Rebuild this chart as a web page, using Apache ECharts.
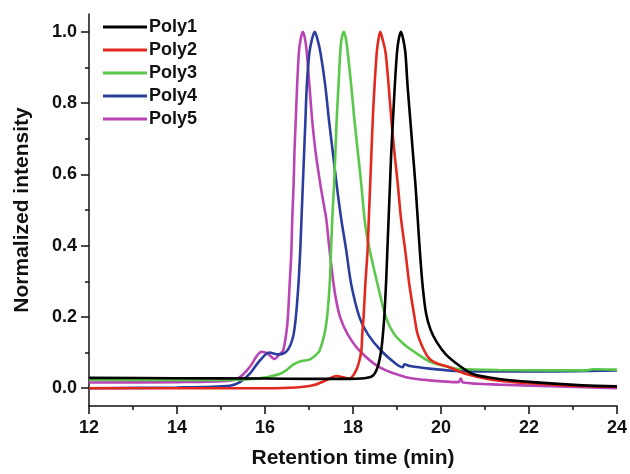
<!DOCTYPE html>
<html><head><meta charset="utf-8">
<script src="https://cdn.jsdelivr.net/npm/echarts@6/dist/echarts.min.js"></script>
<style>html,body{margin:0;padding:0;background:#fff}#c{width:630px;height:474px}</style>
</head><body><div id="c"></div>
<script>
const seriesNames = ['Poly1','Poly2','Poly3','Poly4','Poly5'];
const xTicks = [12,14,16,18,20,22,24];
const yTicks = [0.0,0.2,0.4,0.6,0.8,1.0];
const yMinorTicks = [0.1,0.3,0.5,0.7,0.9];

const poly1 = [[12,0.029],[14,0.028],[16,0.027],[17,0.026],[17.8,0.026],[18.26,0.028],[18.45,0.035],[18.56,0.059],[18.64,0.105],[18.68,0.151],[18.71,0.198],[18.75,0.291],[18.78,0.384],[18.81,0.477],[18.84,0.57],[18.87,0.663],[18.91,0.756],[18.95,0.849],[19.0,0.942],[19.04,0.98],[19.09,1.0],[19.14,0.98],[19.19,0.942],[19.24,0.849],[19.30,0.756],[19.36,0.663],[19.42,0.57],[19.47,0.477],[19.52,0.384],[19.58,0.291],[19.66,0.21],[19.76,0.165],[19.9,0.13],[20.11,0.095],[20.42,0.063],[20.72,0.04],[21.32,0.026],[22.08,0.017],[23.21,0.008],[24,0.005]];
const poly2 = [[12,0.0],[14,0.0],[16,0.0],[16.71,0.002],[17.09,0.008],[17.39,0.022],[17.62,0.034],[17.8,0.03],[17.92,0.027],[18.0,0.035],[18.07,0.05],[18.13,0.07],[18.19,0.105],[18.21,0.151],[18.24,0.198],[18.28,0.291],[18.33,0.384],[18.36,0.477],[18.39,0.57],[18.42,0.663],[18.45,0.756],[18.49,0.849],[18.54,0.942],[18.58,0.98],[18.62,1.0],[18.67,0.98],[18.74,0.942],[18.81,0.849],[18.87,0.756],[18.94,0.663],[19.02,0.57],[19.09,0.477],[19.19,0.384],[19.28,0.291],[19.40,0.198],[19.47,0.151],[19.62,0.105],[19.74,0.082],[19.9,0.07],[20.19,0.059],[20.57,0.04],[21.32,0.021],[22.84,0.008],[24,0.004]];
const poly3 = [[12,0.024],[14,0.023],[15.2,0.023],[15.73,0.026],[16.0,0.03],[16.18,0.035],[16.33,0.04],[16.48,0.05],[16.64,0.066],[16.79,0.075],[17.0,0.08],[17.09,0.086],[17.17,0.095],[17.24,0.105],[17.35,0.151],[17.41,0.198],[17.47,0.291],[17.50,0.384],[17.53,0.477],[17.57,0.57],[17.60,0.663],[17.63,0.756],[17.67,0.849],[17.71,0.942],[17.74,0.98],[17.79,1.0],[17.84,0.98],[17.88,0.942],[17.96,0.849],[18.03,0.756],[18.11,0.663],[18.19,0.57],[18.26,0.477],[18.32,0.425],[18.41,0.37],[18.56,0.291],[18.75,0.198],[18.94,0.151],[19.17,0.122],[19.36,0.105],[19.74,0.075],[20.19,0.059],[20.42,0.054],[21.3,0.051],[22.5,0.05],[23.3,0.05],[23.45,0.053],[24,0.052]];
const poly4 = [[12,0.0],[14,0.002],[15.2,0.007],[15.43,0.017],[15.65,0.04],[15.88,0.077],[16.1,0.1],[16.3,0.095],[16.43,0.098],[16.52,0.108],[16.59,0.125],[16.65,0.151],[16.70,0.198],[16.76,0.291],[16.80,0.384],[16.83,0.477],[16.86,0.57],[16.89,0.663],[16.92,0.756],[16.95,0.849],[17.01,0.942],[17.07,0.98],[17.13,1.0],[17.19,0.98],[17.26,0.942],[17.37,0.849],[17.45,0.756],[17.54,0.663],[17.63,0.57],[17.73,0.477],[17.85,0.384],[17.96,0.291],[18.15,0.198],[18.34,0.151],[18.64,0.105],[18.98,0.068],[19.13,0.059],[19.17,0.067],[19.3,0.062],[19.74,0.055],[20.42,0.048],[22,0.047],[24,0.05]];
const poly5 = [[12,0.016],[14,0.017],[15.2,0.021],[15.43,0.031],[15.65,0.059],[15.92,0.102],[16.05,0.098],[16.22,0.082],[16.33,0.095],[16.41,0.105],[16.48,0.151],[16.52,0.198],[16.56,0.291],[16.60,0.384],[16.62,0.477],[16.65,0.57],[16.67,0.663],[16.70,0.756],[16.73,0.849],[16.77,0.942],[16.81,0.98],[16.86,1.0],[16.91,0.98],[16.95,0.942],[17.01,0.849],[17.07,0.756],[17.15,0.663],[17.26,0.57],[17.33,0.52],[17.39,0.477],[17.47,0.384],[17.56,0.291],[17.62,0.245],[17.71,0.198],[17.88,0.151],[18.15,0.105],[18.6,0.059],[19.21,0.031],[19.74,0.022],[20.4,0.017],[20.45,0.027],[20.5,0.016],[21.32,0.01],[24,0.0]];

const seriesData = [poly1, poly2, poly3, poly4, poly5];
const colors = ['#000000','#e3291e','#5ac84a','#2b3e9e','#b945b5'];

const font = 'Liberation Sans, Arial, sans-serif';
const axisColor = '#111';
const chart = echarts.init(document.getElementById('c'), null, {renderer:'canvas'});
chart.setOption({
  animation: false,
  grid: {left: 89, right: 12, top: 14, bottom: 65},
  legend: {
    orient: 'vertical', left: 98, top: 13, itemGap: 5,
    icon: 'rect', itemWidth: 44, itemHeight: 3,
    textStyle: {fontFamily: font, fontWeight: 'bold', fontSize: 18, color: '#111', padding: [0,0,0,-3]},
    data: seriesNames
  },
  xAxis: {
    type: 'value', min: 12, max: 24, interval: 2,
    name: 'Retention time (min)', nameLocation: 'middle', nameGap: 42,
    nameTextStyle: {fontFamily: font, fontWeight: 'bold', fontSize: 21, color: axisColor},
    axisLine: {show: true, onZero: false, lineStyle: {color: axisColor, width: 1.5}},
    axisTick: {show: true, inside: false, length: 8, lineStyle: {color: axisColor, width: 1.5}},
    minorTick: {show: true, splitNumber: 2, length: 4, lineStyle: {color: axisColor, width: 1.5}},
    splitLine: {show: false},
    axisLabel: {fontFamily: font, fontWeight: 'bold', fontSize: 18, color: axisColor, margin: 13,
      formatter: v => xTicks.includes(v) ? String(v) : ''}
  },
  yAxis: [{
    type: 'value', min: -0.05, max: 1.05,
    name: 'Normalized intensity', nameLocation: 'middle', nameGap: 56,
    nameTextStyle: {fontFamily: font, fontWeight: 'bold', fontSize: 21, color: axisColor},
    axisLine: {show: true, onZero: false, lineStyle: {color: axisColor, width: 1.5}},
    axisTick: {show: true, inside: false, length: 8, lineStyle: {color: axisColor, width: 1.5},
      customValues: yTicks},
    splitLine: {show: false},
    axisLabel: {fontFamily: font, fontWeight: 'bold', fontSize: 18, color: axisColor, margin: 12,
      customValues: yTicks, formatter: v => v.toFixed(1)}
  }, {
    type: 'value', min: -0.05, max: 1.05, position: 'left',
    axisLine: {show: false},
    axisTick: {show: true, inside: false, length: 4, lineStyle: {color: axisColor, width: 1.5},
      customValues: yMinorTicks},
    axisLabel: {show: false},
    splitLine: {show: false}
  }],
  series: seriesData.map((d, i) => ({
    name: seriesNames[i], type: 'line', data: d, showSymbol: false, symbol: 'none',
    smooth: 0.3,
    lineStyle: {color: colors[i], width: 2.6}, itemStyle: {color: colors[i]},
    z: 10 - i
  }))
});
</script>
</body></html>
